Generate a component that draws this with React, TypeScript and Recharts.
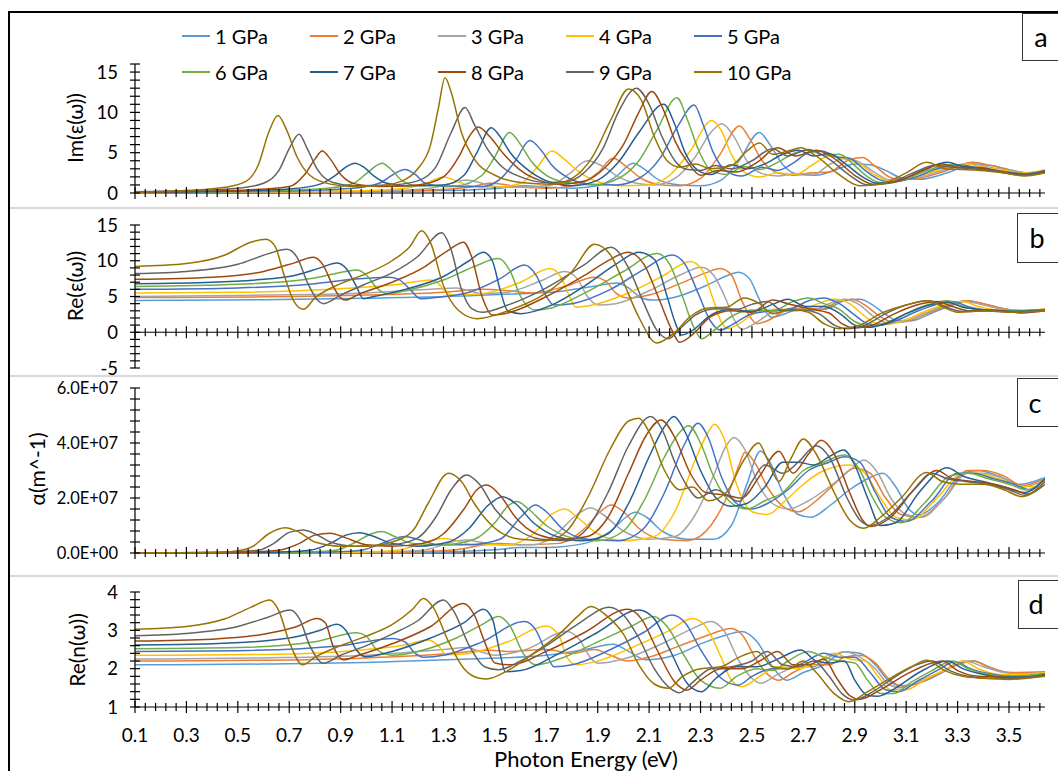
import React from "react";
import { LineChart, Line, XAxis, YAxis, ReferenceLine } from "recharts";

type Pt = [number, number];

const pressures = ["1 GPa", "2 GPa", "3 GPa", "4 GPa", "5 GPa", "6 GPa", "7 GPa", "8 GPa", "9 GPa", "10 GPa"];
const colors = ["#5B9BD5", "#ED7D31", "#A5A5A5", "#FFC000", "#4472C4", "#70AD47", "#255E91", "#9E480E", "#636363", "#997300"];
const xMajorLabels = ["0.1", "0.3", "0.5", "0.7", "0.9", "1.1", "1.3", "1.5", "1.7", "1.9", "2.1", "2.3", "2.5", "2.7", "2.9", "3.1", "3.3", "3.5"];

// ---- (a) Im(eps) ----
const imEps1: Pt[] = [[0.1,0.05],[0.8,0.1],[1.3,0.3],[1.52,0.6],[1.62,0.9],[1.7,0.7],[1.8,0.6],[1.9,0.9],[1.97,2.0],[2.038,3.7],[2.08,3.0],[2.14,1.6],[2.22,1.0],[2.3,0.9],[2.38,1.6],[2.45,4.0],[2.529,7.5],[2.57,6.0],[2.62,3.5],[2.68,2.3],[2.75,2.2],[2.82,2.8],[2.9,3.6],[2.96,3.5],[3.02,2.8],[3.08,1.9],[3.15,1.7],[3.26,2.5],[3.36,3.6],[3.43,3.4],[3.5,2.9],[3.57,2.5],[3.64,2.6]];
const imEps2: Pt[] = [[0.1,0.05],[0.8,0.1],[1.2,0.3],[1.4,0.7],[1.48,1.2],[1.53,1.1],[1.6,0.7],[1.7,0.6],[1.82,1.0],[1.9,2.5],[1.96,4.3],[2.01,3.3],[2.07,1.8],[2.15,1.0],[2.22,0.9],[2.3,1.8],[2.37,4.5],[2.452,8.3],[2.49,6.8],[2.54,4.0],[2.6,2.5],[2.66,2.2],[2.73,2.5],[2.8,2.6],[2.87,4.0],[2.93,4.4],[2.98,3.3],[3.05,1.8],[3.12,1.7],[3.24,2.6],[3.36,3.8],[3.43,3.4],[3.5,2.9],[3.57,2.5],[3.64,2.7]];
const imEps3: Pt[] = [[0.1,0.1],[0.7,0.15],[1.1,0.3],[1.25,0.6],[1.33,1.2],[1.39,1.6],[1.44,1.3],[1.5,0.8],[1.6,0.7],[1.72,1.0],[1.79,2.4],[1.86,4.0],[1.92,3.3],[1.98,2.0],[2.05,1.2],[2.12,1.0],[2.2,1.8],[2.28,4.5],[2.34,7.5],[2.383,8.6],[2.43,7.0],[2.48,4.0],[2.54,2.4],[2.6,2.1],[2.67,2.4],[2.74,2.3],[2.8,3.5],[2.86,4.3],[2.92,3.8],[2.98,2.5],[3.04,1.6],[3.12,1.8],[3.24,2.8],[3.35,3.7],[3.42,3.2],[3.5,2.8],[3.57,2.5],[3.64,2.8]];
const imEps4: Pt[] = [[0.1,0.1],[0.6,0.15],[1.0,0.3],[1.15,0.6],[1.24,1.3],[1.3,2.0],[1.35,1.5],[1.4,0.9],[1.5,0.7],[1.6,1.2],[1.66,3.0],[1.722,5.2],[1.77,4.2],[1.82,2.8],[1.9,1.4],[2.0,0.9],[2.1,1.0],[2.18,2.2],[2.26,5.2],[2.344,9.0],[2.38,7.8],[2.42,4.8],[2.47,2.6],[2.53,2.0],[2.6,2.5],[2.67,2.3],[2.74,3.6],[2.8,4.6],[2.86,4.2],[2.92,3.6],[2.98,2.2],[3.04,1.5],[3.12,1.8],[3.22,2.8],[3.33,3.6],[3.4,3.2],[3.48,2.8],[3.56,2.5],[3.64,2.9]];
const imEps5: Pt[] = [[0.1,0.1],[0.6,0.2],[0.95,0.6],[1.05,1.2],[1.1,2.2],[1.15,2.9],[1.19,2.3],[1.23,1.2],[1.3,0.8],[1.45,0.8],[1.53,2.0],[1.58,4.0],[1.636,6.5],[1.68,5.3],[1.72,3.5],[1.79,1.8],[1.87,1.1],[1.97,1.0],[2.06,1.8],[2.14,4.2],[2.21,8.2],[2.275,10.9],[2.31,8.5],[2.35,5.0],[2.4,2.7],[2.46,2.1],[2.54,3.2],[2.6,2.8],[2.66,3.7],[2.72,5.0],[2.77,5.2],[2.83,4.5],[2.88,4.3],[2.94,2.8],[3.0,1.6],[3.04,1.4],[3.12,1.8],[3.22,3.0],[3.3,3.5],[3.38,3.1],[3.47,2.7],[3.56,2.4],[3.64,2.8]];
const imEps6: Pt[] = [[0.1,0.1],[0.5,0.2],[0.85,0.6],[0.95,1.2],[1.0,2.4],[1.061,3.7],[1.1,2.8],[1.14,1.5],[1.2,0.9],[1.35,0.9],[1.45,2.2],[1.5,4.5],[1.557,7.5],[1.6,6.0],[1.64,4.0],[1.7,2.2],[1.78,1.3],[1.88,1.0],[1.98,1.8],[2.06,4.0],[2.13,7.8],[2.208,11.8],[2.25,9.0],[2.29,5.5],[2.34,2.8],[2.4,2.3],[2.47,3.3],[2.53,2.9],[2.6,3.8],[2.67,5.0],[2.72,5.3],[2.78,4.7],[2.84,4.8],[2.9,3.4],[2.95,2.0],[3.0,1.3],[3.08,1.5],[3.18,2.8],[3.28,3.5],[3.36,3.1],[3.45,2.8],[3.55,2.3],[3.64,2.7]];
const imEps7: Pt[] = [[0.1,0.1],[0.4,0.2],[0.7,0.5],[0.82,1.1],[0.88,2.2],[0.92,3.2],[0.956,3.7],[0.99,3.2],[1.03,2.1],[1.08,1.2],[1.15,0.9],[1.3,1.0],[1.38,2.2],[1.43,5.0],[1.486,8.1],[1.52,7.0],[1.56,5.0],[1.64,2.6],[1.72,1.3],[1.8,0.9],[1.9,1.6],[1.98,3.8],[2.06,7.5],[2.157,11.0],[2.2,8.5],[2.24,5.0],[2.29,2.8],[2.34,2.3],[2.42,3.5],[2.48,3.0],[2.55,3.6],[2.62,4.8],[2.68,5.3],[2.74,4.6],[2.8,4.9],[2.86,3.7],[2.93,2.0],[2.99,1.2],[3.07,1.5],[3.17,2.9],[3.26,3.8],[3.32,3.3],[3.4,3.1],[3.48,2.6],[3.56,2.3],[3.64,2.7]];
const imEps8: Pt[] = [[0.1,0.1],[0.3,0.2],[0.55,0.4],[0.7,0.8],[0.76,2.3],[0.8,4.2],[0.828,5.2],[0.86,4.2],[0.9,2.3],[0.96,1.1],[1.05,0.8],[1.2,1.0],[1.3,2.0],[1.36,4.5],[1.4,7.0],[1.435,8.2],[1.48,7.0],[1.53,5.0],[1.6,2.8],[1.68,1.5],[1.75,1.1],[1.85,1.5],[1.93,3.2],[2.0,6.0],[2.06,10.0],[2.11,12.6],[2.16,10.0],[2.2,6.5],[2.25,3.8],[2.3,2.2],[2.37,2.8],[2.44,2.6],[2.52,3.8],[2.6,5.6],[2.67,4.6],[2.75,5.3],[2.82,4.3],[2.9,2.2],[2.97,1.1],[3.05,1.3],[3.15,2.6],[3.24,3.6],[3.3,3.2],[3.38,3.1],[3.46,2.7],[3.55,2.2],[3.64,2.6]];
const imEps9: Pt[] = [[0.1,0.15],[0.3,0.3],[0.5,0.6],[0.6,1.2],[0.66,2.8],[0.7,5.5],[0.738,7.3],[0.77,5.5],[0.81,2.9],[0.87,1.3],[0.95,0.9],[1.1,1.0],[1.2,1.5],[1.27,3.2],[1.33,7.5],[1.384,10.6],[1.42,8.5],[1.47,5.5],[1.53,3.2],[1.6,2.0],[1.7,1.3],[1.78,1.4],[1.85,2.6],[1.92,5.5],[1.98,10.0],[2.05,13.0],[2.1,11.0],[2.15,7.0],[2.2,4.0],[2.25,2.9],[2.3,2.8],[2.36,3.4],[2.42,3.0],[2.5,4.0],[2.58,5.5],[2.64,4.6],[2.72,5.4],[2.8,4.2],[2.88,2.2],[2.95,1.0],[3.03,1.2],[3.12,2.4],[3.21,3.4],[3.28,3.2],[3.36,3.0],[3.45,2.7],[3.55,2.2],[3.64,2.5]];
const imEps10: Pt[] = [[0.1,0.1],[0.3,0.3],[0.45,0.7],[0.53,1.4],[0.58,3.5],[0.62,7.5],[0.656,9.6],[0.69,7.8],[0.73,4.5],[0.78,2.2],[0.86,1.1],[0.95,0.8],[1.05,0.9],[1.14,1.5],[1.2,3.0],[1.25,6.0],[1.28,10.5],[1.306,14.3],[1.33,12.5],[1.37,7.5],[1.42,4.2],[1.5,2.2],[1.6,1.3],[1.72,1.1],[1.8,1.8],[1.88,4.5],[1.95,9.0],[2.02,12.9],[2.07,11.5],[2.12,7.0],[2.17,4.0],[2.22,3.2],[2.28,3.6],[2.34,3.0],[2.42,3.4],[2.48,5.2],[2.53,6.2],[2.58,4.8],[2.64,5.2],[2.69,5.6],[2.75,4.6],[2.83,2.5],[2.92,0.9],[3.0,1.1],[3.1,2.5],[3.18,3.8],[3.25,3.0],[3.32,2.9],[3.42,2.7],[3.5,2.4],[3.56,2.1],[3.64,2.5]];

// ---- (b) Re(eps) ----
const reEps1: Pt[] = [[0.1,4.45],[0.6,4.55],[1.0,4.75],[1.4,5.1],[1.6,5.4],[1.75,5.7],[1.88,6.4],[1.974,6.9],[2.02,6.2],[2.07,4.8],[2.117,4.5],[2.2,4.9],[2.32,6.5],[2.41,8.0],[2.447,8.4],[2.49,7.5],[2.53,4.5],[2.56,2.6],[2.577,2.1],[2.63,2.6],[2.7,3.4],[2.78,3.2],[2.86,4.4],[2.92,4.6],[2.97,3.8],[3.02,2.5],[3.07,1.6],[3.12,1.6],[3.2,2.7],[3.28,3.8],[3.34,4.4],[3.4,4.0],[3.48,3.3],[3.56,3.0],[3.64,3.1]];
const reEps2: Pt[] = [[0.1,4.85],[0.6,4.95],[1.0,5.2],[1.3,5.6],[1.45,6.0],[1.55,5.8],[1.65,5.5],[1.78,6.5],[1.887,7.7],[1.93,7.2],[1.97,5.5],[2.017,4.8],[2.1,5.2],[2.22,6.8],[2.32,8.3],[2.376,8.9],[2.42,8.0],[2.46,4.5],[2.49,2.3],[2.519,1.2],[2.56,1.6],[2.63,3.0],[2.7,3.4],[2.77,3.2],[2.83,4.2],[2.89,4.6],[2.94,3.8],[2.99,2.4],[3.05,1.4],[3.1,1.5],[3.18,2.6],[3.26,3.7],[3.33,4.4],[3.4,4.0],[3.48,3.3],[3.56,3.0],[3.64,3.2]];
const reEps3: Pt[] = [[0.1,5.0],[0.6,5.2],[1.0,5.5],[1.25,6.0],[1.35,6.2],[1.4,5.8],[1.45,5.4],[1.55,5.6],[1.68,7.2],[1.773,8.5],[1.82,7.5],[1.86,5.0],[1.902,3.8],[1.97,4.0],[2.1,5.8],[2.22,8.0],[2.304,9.1],[2.35,8.0],[2.4,4.5],[2.43,1.8],[2.462,0.4],[2.51,1.2],[2.58,2.8],[2.66,3.3],[2.74,3.1],[2.8,4.0],[2.86,4.6],[2.92,3.8],[2.97,2.3],[3.03,1.3],[3.08,1.4],[3.16,2.5],[3.24,3.6],[3.32,4.3],[3.38,4.0],[3.46,3.3],[3.55,3.0],[3.64,3.2]];
const reEps4: Pt[] = [[0.1,5.5],[0.5,5.6],[0.9,6.1],[1.1,6.6],[1.2,7.1],[1.248,7.3],[1.28,6.8],[1.31,5.6],[1.34,5.2],[1.45,5.4],[1.6,7.0],[1.715,8.9],[1.76,7.5],[1.79,5.0],[1.816,3.5],[1.88,3.8],[2.0,5.2],[2.15,7.8],[2.261,9.9],[2.31,8.5],[2.35,4.5],[2.38,1.5],[2.404,0.5],[2.45,1.2],[2.52,2.8],[2.6,3.2],[2.68,3.0],[2.75,3.9],[2.82,4.6],[2.88,4.0],[2.93,2.5],[2.98,1.3],[3.03,1.1],[3.1,1.8],[3.18,3.0],[3.26,4.0],[3.32,4.3],[3.38,3.6],[3.46,3.1],[3.55,3.0],[3.64,3.2]];
const reEps5: Pt[] = [[0.1,6.0],[0.5,6.2],[0.8,6.8],[0.95,7.4],[1.079,7.7],[1.12,7.5],[1.17,6.0],[1.21,4.7],[1.28,4.9],[1.4,5.6],[1.52,7.5],[1.615,9.4],[1.66,8.0],[1.7,5.0],[1.73,3.8],[1.8,4.0],[1.95,6.0],[2.08,8.8],[2.189,10.8],[2.24,9.5],[2.29,5.5],[2.34,1.5],[2.376,0.3],[2.42,1.0],[2.5,2.6],[2.58,3.0],[2.66,3.4],[2.72,4.4],[2.78,4.8],[2.84,4.0],[2.9,2.4],[2.95,1.2],[3.0,1.0],[3.06,1.6],[3.14,2.9],[3.22,3.9],[3.28,4.3],[3.34,3.6],[3.42,3.1],[3.52,3.0],[3.64,3.1]];
const reEps6: Pt[] = [[0.1,6.4],[0.5,6.7],[0.8,7.6],[0.92,8.5],[0.962,8.7],[1.0,8.0],[1.04,6.2],[1.08,5.4],[1.15,5.8],[1.3,7.3],[1.42,9.2],[1.514,10.3],[1.56,8.5],[1.6,5.0],[1.658,3.1],[1.72,3.4],[1.85,5.5],[2.0,8.5],[2.132,11.0],[2.18,9.5],[2.23,5.0],[2.27,1.0],[2.304,-0.9],[2.35,0.2],[2.42,2.2],[2.5,3.1],[2.58,3.0],[2.66,4.3],[2.72,4.8],[2.78,4.0],[2.84,3.2],[2.9,1.5],[2.95,0.9],[3.02,1.3],[3.1,2.6],[3.18,3.8],[3.26,4.4],[3.32,3.6],[3.4,3.1],[3.5,3.0],[3.64,3.1]];
const reEps7: Pt[] = [[0.1,6.8],[0.4,7.0],[0.7,7.8],[0.82,9.0],[0.885,9.7],[0.92,9.0],[0.96,6.5],[0.988,4.7],[1.03,5.0],[1.15,6.0],[1.3,7.8],[1.4,10.0],[1.455,11.2],[1.49,10.0],[1.52,6.0],[1.55,3.0],[1.6,2.6],[1.72,3.8],[1.85,6.5],[1.97,9.5],[2.06,11.2],[2.12,10.2],[2.17,5.0],[2.2,1.5],[2.225,-0.4],[2.27,0.3],[2.34,2.4],[2.42,3.2],[2.5,2.9],[2.58,3.9],[2.64,4.6],[2.71,3.6],[2.78,3.6],[2.85,2.4],[2.9,1.0],[2.95,0.7],[3.02,1.2],[3.1,2.6],[3.18,3.7],[3.26,4.2],[3.32,3.5],[3.42,3.1],[3.52,2.9],[3.64,3.1]];
const reEps8: Pt[] = [[0.1,7.4],[0.4,7.7],[0.6,8.5],[0.72,9.7],[0.794,10.5],[0.83,9.5],[0.87,6.5],[0.9,4.8],[0.917,4.5],[0.97,5.3],[1.1,7.0],[1.22,9.0],[1.32,11.5],[1.378,12.6],[1.41,10.5],[1.45,5.0],[1.49,2.4],[1.55,2.7],[1.7,5.0],[1.85,8.0],[1.95,10.2],[2.017,11.2],[2.08,9.5],[2.14,4.5],[2.19,0.2],[2.218,-1.4],[2.27,-0.3],[2.34,2.2],[2.42,3.0],[2.5,2.8],[2.58,4.5],[2.64,4.0],[2.72,3.3],[2.8,2.7],[2.85,1.2],[2.9,0.6],[2.97,1.0],[3.05,2.5],[3.14,3.8],[3.22,4.3],[3.28,3.6],[3.35,3.0],[3.45,3.0],[3.55,2.7],[3.64,3.0]];
const reEps9: Pt[] = [[0.1,8.2],[0.3,8.5],[0.5,9.5],[0.62,11.0],[0.69,11.6],[0.73,10.5],[0.77,7.0],[0.81,4.5],[0.833,4.0],[0.9,5.2],[1.0,6.8],[1.1,8.3],[1.2,10.6],[1.293,13.9],[1.33,11.5],[1.37,6.0],[1.41,3.3],[1.45,2.8],[1.55,3.8],[1.7,6.2],[1.85,9.5],[1.952,11.9],[2.02,9.0],[2.08,4.0],[2.13,0.3],[2.175,-0.9],[2.22,0.5],[2.28,2.4],[2.36,3.3],[2.44,3.2],[2.5,3.9],[2.56,4.3],[2.62,3.0],[2.7,3.1],[2.76,2.6],[2.82,1.0],[2.87,0.5],[2.94,1.0],[3.02,2.6],[3.1,3.8],[3.19,4.4],[3.25,3.6],[3.32,2.9],[3.42,3.0],[3.52,2.8],[3.64,3.0]];
const reEps10: Pt[] = [[0.1,9.2],[0.3,9.6],[0.45,10.8],[0.55,12.6],[0.61,13.0],[0.645,12.0],[0.68,8.0],[0.72,4.2],[0.755,3.2],[0.8,4.8],[0.9,6.8],[1.0,8.2],[1.1,10.0],[1.17,12.0],[1.215,14.2],[1.25,12.5],[1.3,6.5],[1.36,3.0],[1.43,1.9],[1.55,3.0],[1.7,5.5],[1.8,8.5],[1.887,12.3],[1.95,10.8],[2.0,7.0],[2.06,2.1],[2.13,-1.5],[2.2,0.0],[2.26,2.2],[2.33,3.4],[2.4,3.5],[2.47,4.8],[2.53,4.0],[2.58,2.6],[2.65,3.2],[2.72,2.8],[2.78,1.2],[2.84,0.5],[2.92,1.0],[3.0,2.6],[3.1,3.8],[3.18,4.4],[3.24,3.6],[3.3,2.8],[3.4,3.0],[3.5,2.8],[3.64,3.0]];

// ---- (c) alpha, in units of 1E+07 m^-1 ----
const alpha1: Pt[] = [[0.1,0.0],[1.2,0.03],[1.5,0.12],[1.6,0.2],[1.7,0.2],[1.85,0.35],[1.95,0.8],[2.01,1.3],[2.045,1.48],[2.09,1.3],[2.15,0.8],[2.25,0.5],[2.35,0.5],[2.42,1.0],[2.48,2.5],[2.533,3.71],[2.57,3.3],[2.62,2.2],[2.68,1.4],[2.73,1.3],[2.8,1.7],[2.88,2.3],[2.95,2.7],[3.01,2.9],[3.06,2.4],[3.11,1.6],[3.15,1.38],[3.22,1.8],[3.32,2.9],[3.38,3.0],[3.46,2.8],[3.54,2.5],[3.64,2.75]];
const alpha2: Pt[] = [[0.1,0.0],[1.1,0.03],[1.35,0.12],[1.46,0.3],[1.52,0.35],[1.6,0.3],[1.75,0.35],[1.85,0.9],[1.91,1.5],[1.952,1.75],[2.0,1.5],[2.06,0.9],[2.15,0.5],[2.25,0.45],[2.34,1.0],[2.41,2.2],[2.45,3.2],[2.473,3.66],[2.51,3.3],[2.56,2.4],[2.62,1.7],[2.68,1.5],[2.75,1.9],[2.82,2.5],[2.9,3.08],[2.96,2.9],[3.02,2.0],[3.08,1.4],[3.15,1.3],[3.24,1.9],[3.34,3.0],[3.4,3.0],[3.48,2.8],[3.55,2.45],[3.64,2.7]];
const alpha3: Pt[] = [[0.1,0.0],[1.0,0.03],[1.22,0.1],[1.3,0.3],[1.36,0.45],[1.39,0.47],[1.44,0.4],[1.52,0.3],[1.65,0.3],[1.74,0.7],[1.82,1.4],[1.873,1.65],[1.92,1.4],[2.0,0.8],[2.1,0.5],[2.2,0.6],[2.28,1.4],[2.35,2.8],[2.4,3.9],[2.43,4.2],[2.47,3.8],[2.52,2.6],[2.58,1.8],[2.64,1.6],[2.72,1.9],[2.8,2.4],[2.88,3.0],[2.935,3.38],[2.99,2.9],[3.04,2.0],[3.1,1.4],[3.16,1.3],[3.25,2.0],[3.34,2.9],[3.4,2.9],[3.48,2.7],[3.55,2.4],[3.64,2.65]];
const alpha4: Pt[] = [[0.1,0.0],[0.9,0.02],[1.12,0.1],[1.2,0.3],[1.26,0.48],[1.3,0.53],[1.35,0.45],[1.42,0.3],[1.55,0.3],[1.65,0.7],[1.72,1.4],[1.773,1.6],[1.82,1.3],[1.9,0.7],[2.0,0.45],[2.12,0.6],[2.2,1.5],[2.28,3.4],[2.33,4.4],[2.354,4.68],[2.39,4.2],[2.44,2.5],[2.5,1.5],[2.56,1.4],[2.63,1.9],[2.7,2.5],[2.78,3.0],[2.88,3.2],[2.94,2.9],[3.0,2.0],[3.06,1.3],[3.12,1.2],[3.22,2.0],[3.32,2.9],[3.38,2.9],[3.46,2.7],[3.54,2.45],[3.6,2.4],[3.64,2.75]];
const alpha5: Pt[] = [[0.1,0.0],[0.8,0.02],[0.98,0.1],[1.06,0.35],[1.12,0.55],[1.15,0.6],[1.2,0.5],[1.28,0.3],[1.4,0.3],[1.52,0.5],[1.6,1.3],[1.658,1.75],[1.7,1.5],[1.76,0.9],[1.86,0.5],[1.98,0.45],[2.08,0.9],[2.16,2.2],[2.24,4.0],[2.29,4.72],[2.33,4.2],[2.38,2.8],[2.44,1.8],[2.5,1.6],[2.56,1.8],[2.64,2.3],[2.72,3.0],[2.8,3.3],[2.86,3.5],[2.92,3.3],[2.98,2.2],[3.04,1.3],[3.1,1.15],[3.2,1.9],[3.3,2.9],[3.36,2.9],[3.44,2.7],[3.52,2.5],[3.58,2.3],[3.64,2.7]];
const alpha6: Pt[] = [[0.1,0.0],[0.7,0.02],[0.88,0.1],[0.96,0.4],[1.02,0.7],[1.06,0.78],[1.11,0.6],[1.18,0.35],[1.3,0.3],[1.42,0.5],[1.5,1.1],[1.55,1.7],[1.586,1.87],[1.63,1.6],[1.7,1.0],[1.8,0.55],[1.9,0.45],[2.0,0.8],[2.08,1.9],[2.16,3.5],[2.22,4.4],[2.254,4.63],[2.3,4.0],[2.35,2.8],[2.41,1.9],[2.48,1.6],[2.55,1.9],[2.62,2.2],[2.7,3.0],[2.78,3.3],[2.86,3.56],[2.92,3.0],[2.97,2.0],[3.02,1.3],[3.08,1.1],[3.17,1.8],[3.27,2.8],[3.34,2.9],[3.42,2.7],[3.5,2.5],[3.57,2.3],[3.64,2.7]];
const alpha7: Pt[] = [[0.1,0.0],[0.6,0.02],[0.78,0.1],[0.86,0.35],[0.92,0.65],[0.975,0.74],[1.03,0.6],[1.1,0.35],[1.2,0.25],[1.32,0.4],[1.4,0.9],[1.47,1.7],[1.53,2.05],[1.58,1.8],[1.65,1.1],[1.74,0.6],[1.84,0.45],[1.94,0.7],[2.02,1.8],[2.1,3.5],[2.16,4.6],[2.196,4.96],[2.24,4.4],[2.3,3.0],[2.36,2.0],[2.42,1.7],[2.48,1.8],[2.55,2.4],[2.62,3.3],[2.68,3.3],[2.74,3.2],[2.8,3.5],[2.857,3.75],[2.9,3.2],[2.95,2.0],[3.0,1.0],[3.06,1.1],[3.15,2.2],[3.26,3.1],[3.32,2.8],[3.4,2.6],[3.48,2.4],[3.56,2.2],[3.64,2.7]];
const alpha8: Pt[] = [[0.1,0.0],[0.5,0.02],[0.66,0.1],[0.74,0.35],[0.8,0.65],[0.859,0.72],[0.92,0.55],[1.0,0.3],[1.1,0.25],[1.22,0.35],[1.3,0.7],[1.38,1.6],[1.43,2.3],[1.468,2.47],[1.52,2.1],[1.58,1.3],[1.66,0.7],[1.76,0.5],[1.86,0.6],[1.94,1.3],[2.02,2.9],[2.09,4.3],[2.146,4.84],[2.2,4.2],[2.26,2.9],[2.32,2.2],[2.4,2.1],[2.46,2.0],[2.53,2.8],[2.605,3.7],[2.66,2.9],[2.72,3.6],[2.77,4.1],[2.82,3.6],[2.88,2.2],[2.93,1.2],[2.96,0.96],[3.04,1.3],[3.13,2.3],[3.22,3.0],[3.28,2.7],[3.36,2.6],[3.44,2.5],[3.52,2.3],[3.57,2.15],[3.64,2.6]];
const alpha9: Pt[] = [[0.1,0.0],[0.45,0.03],[0.58,0.1],[0.64,0.35],[0.7,0.75],[0.755,0.84],[0.8,0.7],[0.86,0.4],[0.95,0.25],[1.1,0.3],[1.2,0.55],[1.27,1.3],[1.33,2.3],[1.39,2.84],[1.44,2.5],[1.5,1.6],[1.58,0.9],[1.68,0.5],[1.78,0.45],[1.86,0.9],[1.94,2.2],[2.02,3.9],[2.106,4.96],[2.15,4.5],[2.2,3.3],[2.25,2.4],[2.29,2.0],[2.36,2.3],[2.45,1.87],[2.5,2.6],[2.55,3.2],[2.62,2.9],[2.68,3.3],[2.75,3.9],[2.8,3.5],[2.87,2.0],[2.92,1.2],[2.96,1.0],[3.03,1.3],[3.12,2.2],[3.2,2.9],[3.26,2.7],[3.33,2.6],[3.42,2.5],[3.5,2.3],[3.56,2.1],[3.64,2.5]];
const alpha10: Pt[] = [[0.1,0.0],[0.4,0.02],[0.5,0.08],[0.56,0.25],[0.62,0.7],[0.684,0.92],[0.74,0.75],[0.8,0.4],[0.9,0.25],[1.0,0.25],[1.1,0.4],[1.18,0.8],[1.24,1.8],[1.32,2.9],[1.37,2.6],[1.42,1.8],[1.5,0.9],[1.6,0.5],[1.7,0.45],[1.78,0.8],[1.86,2.0],[1.95,3.8],[2.02,4.8],[2.06,4.9],[2.1,4.4],[2.16,3.0],[2.22,2.3],[2.27,2.4],[2.33,1.9],[2.4,2.2],[2.47,3.4],[2.526,4.0],[2.56,3.4],[2.605,2.6],[2.65,3.4],[2.7,4.15],[2.75,3.6],[2.82,2.2],[2.88,1.2],[2.935,0.9],[3.0,1.3],[3.08,2.0],[3.18,2.93],[3.24,2.6],[3.31,2.5],[3.4,2.5],[3.48,2.3],[3.55,2.05],[3.64,2.6]];

// ---- (d) Re(n) ----
const reN1: Pt[] = [[0.1,2.1],[0.6,2.12],[1.0,2.16],[1.4,2.25],[1.7,2.35],[1.85,2.5],[1.96,2.64],[2.02,2.45],[2.09,2.23],[2.2,2.35],[2.32,2.7],[2.41,2.9],[2.462,2.97],[2.52,2.7],[2.58,2.05],[2.634,1.7],[2.7,1.9],[2.78,2.1],[2.86,2.44],[2.92,2.4],[2.98,2.1],[3.03,1.7],[3.08,1.55],[3.16,1.65],[3.24,1.9],[3.3,2.15],[3.36,2.2],[3.42,2.05],[3.5,1.9],[3.64,1.88]];
const reN2: Pt[] = [[0.1,2.2],[0.6,2.22],[1.0,2.28],[1.3,2.38],[1.48,2.48],[1.55,2.45],[1.7,2.5],[1.8,2.4],[1.887,2.5],[1.95,2.35],[2.017,2.2],[2.1,2.3],[2.22,2.6],[2.34,2.9],[2.418,3.05],[2.46,2.9],[2.52,2.2],[2.57,1.8],[2.605,1.7],[2.66,1.9],[2.74,2.1],[2.8,2.1],[2.86,2.3],[2.92,2.35],[2.98,2.15],[3.03,1.75],[3.08,1.55],[3.14,1.6],[3.22,1.85],[3.3,2.1],[3.36,2.2],[3.42,2.05],[3.5,1.9],[3.64,1.92]];
const reN3: Pt[] = [[0.1,2.25],[0.6,2.28],[1.0,2.35],[1.3,2.5],[1.39,2.55],[1.44,2.45],[1.5,2.35],[1.62,2.5],[1.78,2.97],[1.83,2.75],[1.87,2.3],[1.902,2.14],[2.0,2.25],[2.15,2.65],[2.27,3.05],[2.34,3.23],[2.39,3.0],[2.45,2.2],[2.5,1.75],[2.533,1.62],[2.6,1.85],[2.68,2.05],[2.74,2.05],[2.8,2.3],[2.86,2.44],[2.92,2.3],[2.98,2.0],[3.03,1.6],[3.08,1.5],[3.16,1.7],[3.25,1.95],[3.33,2.2],[3.4,2.05],[3.48,1.9],[3.56,1.85],[3.64,1.9]];
const reN4: Pt[] = [[0.1,2.35],[0.6,2.37],[1.0,2.5],[1.15,2.62],[1.24,2.75],[1.28,2.6],[1.31,2.36],[1.38,2.38],[1.55,2.7],[1.7,3.11],[1.75,2.85],[1.78,2.3],[1.816,2.1],[1.9,2.2],[2.05,2.6],[2.18,3.0],[2.268,3.31],[2.32,3.1],[2.38,2.3],[2.42,1.7],[2.462,1.53],[2.53,1.8],[2.6,2.05],[2.68,2.0],[2.76,2.2],[2.82,2.4],[2.88,2.25],[2.94,2.2],[2.99,1.8],[3.04,1.45],[3.1,1.45],[3.18,1.75],[3.26,2.0],[3.32,2.2],[3.38,2.0],[3.46,1.85],[3.55,1.85],[3.64,1.9]];
const reN5: Pt[] = [[0.1,2.45],[0.5,2.47],[0.9,2.6],[1.105,2.79],[1.15,2.7],[1.19,2.4],[1.222,2.3],[1.3,2.35],[1.45,2.7],[1.615,3.23],[1.66,3.0],[1.7,2.4],[1.73,2.05],[1.8,2.1],[1.95,2.5],[2.08,2.95],[2.189,3.4],[2.24,3.2],[2.3,2.5],[2.38,1.75],[2.447,1.57],[2.5,1.8],[2.58,2.0],[2.64,2.0],[2.7,2.15],[2.78,2.4],[2.84,2.3],[2.9,2.3],[2.96,1.9],[3.02,1.45],[3.07,1.4],[3.15,1.7],[3.22,1.95],[3.29,2.18],[3.35,2.0],[3.44,1.85],[3.52,1.8],[3.64,1.87]];
const reN6: Pt[] = [[0.1,2.52],[0.5,2.55],[0.8,2.7],[0.962,2.94],[1.0,2.85],[1.04,2.5],[1.1,2.35],[1.2,2.45],[1.35,2.8],[1.45,3.15],[1.514,3.36],[1.56,3.1],[1.61,2.4],[1.658,2.1],[1.75,2.25],[1.9,2.7],[2.03,3.1],[2.117,3.36],[2.17,3.1],[2.24,2.3],[2.3,1.7],[2.376,1.49],[2.44,1.8],[2.52,2.0],[2.58,1.95],[2.64,2.2],[2.72,2.45],[2.78,2.3],[2.84,2.2],[2.9,2.15],[2.95,1.7],[3.0,1.35],[3.05,1.35],[3.12,1.65],[3.2,1.95],[3.28,2.2],[3.34,2.0],[3.42,1.85],[3.5,1.8],[3.64,1.86]];
const reN7: Pt[] = [[0.1,2.62],[0.4,2.65],[0.7,2.8],[0.82,3.0],[0.885,3.16],[0.92,3.0],[0.96,2.5],[0.995,2.31],[1.1,2.45],[1.25,2.8],[1.38,3.2],[1.455,3.55],[1.49,3.3],[1.52,2.4],[1.54,1.92],[1.6,1.95],[1.75,2.4],[1.9,2.95],[2.06,3.53],[2.12,3.3],[2.18,2.5],[2.25,1.6],[2.304,1.4],[2.36,1.75],[2.44,2.05],[2.52,2.05],[2.6,2.25],[2.69,2.49],[2.75,2.2],[2.8,2.15],[2.86,2.2],[2.9,1.7],[2.95,1.3],[2.99,1.28],[3.06,1.5],[3.15,1.9],[3.26,2.2],[3.32,2.0],[3.4,1.85],[3.48,1.78],[3.56,1.78],[3.64,1.85]];
const reN8: Pt[] = [[0.1,2.72],[0.4,2.77],[0.6,2.9],[0.73,3.1],[0.807,3.31],[0.84,3.2],[0.87,2.6],[0.91,2.23],[0.97,2.35],[1.1,2.65],[1.25,3.1],[1.378,3.7],[1.42,3.4],[1.46,2.7],[1.5,2.15],[1.56,2.1],[1.7,2.45],[1.85,2.95],[2.017,3.55],[2.07,3.3],[2.13,2.5],[2.2,1.65],[2.246,1.44],[2.3,1.7],[2.38,2.0],[2.46,2.0],[2.53,2.2],[2.6,2.45],[2.66,2.1],[2.72,2.1],[2.78,2.25],[2.83,1.75],[2.88,1.3],[2.92,1.2],[3.0,1.45],[3.1,1.85],[3.2,2.15],[3.24,2.2],[3.3,1.95],[3.38,1.8],[3.46,1.78],[3.55,1.75],[3.64,1.83]];
const reN9: Pt[] = [[0.1,2.86],[0.3,2.92],[0.5,3.1],[0.62,3.35],[0.703,3.53],[0.74,3.3],[0.78,2.6],[0.833,2.14],[0.9,2.35],[1.0,2.6],[1.1,2.9],[1.2,3.25],[1.3,3.79],[1.34,3.5],[1.4,2.6],[1.46,2.05],[1.514,1.97],[1.6,2.2],[1.7,2.6],[1.82,3.15],[1.945,3.6],[2.0,3.4],[2.06,2.8],[2.12,2.0],[2.18,1.5],[2.218,1.37],[2.27,1.65],[2.34,2.0],[2.42,2.05],[2.5,2.2],[2.56,2.45],[2.62,2.1],[2.68,2.05],[2.74,2.2],[2.8,1.8],[2.85,1.35],[2.9,1.18],[2.97,1.4],[3.06,1.8],[3.14,2.1],[3.2,2.2],[3.27,1.95],[3.34,1.8],[3.42,1.75],[3.52,1.75],[3.64,1.82]];
const reN10: Pt[] = [[0.1,3.03],[0.3,3.1],[0.45,3.3],[0.55,3.6],[0.625,3.79],[0.66,3.5],[0.7,2.7],[0.752,2.1],[0.8,2.3],[0.9,2.6],[1.0,2.85],[1.1,3.15],[1.18,3.55],[1.222,3.83],[1.26,3.6],[1.32,2.7],[1.38,2.0],[1.44,1.75],[1.468,1.73],[1.55,1.95],[1.65,2.4],[1.75,2.9],[1.82,3.35],[1.873,3.62],[1.94,3.35],[2.0,2.9],[2.06,2.1],[2.12,1.6],[2.175,1.49],[2.23,1.8],[2.3,2.0],[2.38,2.05],[2.45,2.3],[2.52,2.45],[2.58,2.05],[2.64,2.0],[2.7,2.2],[2.75,1.9],[2.82,1.35],[2.878,1.14],[2.95,1.4],[3.05,1.8],[3.12,2.05],[3.18,2.22],[3.25,1.95],[3.32,1.8],[3.4,1.75],[3.5,1.72],[3.64,1.8]];

const imEpsSeries = [imEps1, imEps2, imEps3, imEps4, imEps5, imEps6, imEps7, imEps8, imEps9, imEps10];
const reEpsSeries = [reEps1, reEps2, reEps3, reEps4, reEps5, reEps6, reEps7, reEps8, reEps9, reEps10];
const alphaSeries = [alpha1, alpha2, alpha3, alpha4, alpha5, alpha6, alpha7, alpha8, alpha9, alpha10];
const reNSeries = [reN1, reN2, reN3, reN4, reN5, reN6, reN7, reN8, reN9, reN10];

const FONT = "Lato, 'Open Sans', 'DejaVu Sans', sans-serif";
const X_DOMAIN: [number, number] = [0.1, 3.64];

function steps(from: number, to: number, step: number) {
  const n = Math.round((to - from) / step);
  const out: number[] = [];
  for (let i = 0; i <= n; i++) out.push(Math.round((from + i * step) * 1000) / 1000);
  return out;
}

const xTicks = steps(0.1, 3.62, 0.04);
const isXMajor = (v: number) => Math.abs(v * 10 - Math.round(v * 10)) < 1e-6 && xMajorLabels.includes(v.toFixed(1));

function XTick(props: any) {
  const { x, y, payload, shift, labels } = props;
  const v = payload.value as number;
  const major = isXMajor(v);
  const len = major ? 6 : 4;
  const yy = y - shift;
  return (
    <g>
      <line x1={x} x2={x} y1={yy - len} y2={yy + len} stroke="#000" strokeWidth={1.2} />
      {labels && major && (
        <text x={x} y={yy + 35} textAnchor="middle" fontSize={19} fontFamily={FONT} fill="#000">
          {v.toFixed(1)}
        </text>
      )}
    </g>
  );
}

function YTick(props: any) {
  const { x, y, payload, base, step, fmt, fs } = props;
  const v = payload.value as number;
  const q = (v - base) / step;
  const major = Math.abs(q - Math.round(q)) < 1e-6;
  return (
    <g>
      <line x1={x - 5} x2={x + 5} y1={y} y2={y} stroke="#000" strokeWidth={1.2} />
      {major && (
        <text x={x - 17} y={y} dy={fs * 0.36} textAnchor="end" fontSize={fs} fontFamily={FONT} fill="#000">
          {fmt(v)}
        </text>
      )}
    </g>
  );
}

type PanelCfg = {
  series: Pt[][];
  top: number;
  height: number;
  mt: number;
  xh: number;
  domain: [number, number];
  ticks: number[];
  base: number;
  step: number;
  fmt: (v: number) => string;
  fs: number;
  cross: number;
  labels: boolean;
};

const panels: PanelCfg[] = [
  { series: imEpsSeries, top: 44, height: 163, mt: 20, xh: 14, domain: [0, 16], ticks: steps(0, 16, 1), base: 0, step: 5, fmt: (v) => String(v), fs: 18.5, cross: 0, labels: false },
  { series: reEpsSeries, top: 209, height: 175, mt: 16, xh: 16, domain: [-5, 15], ticks: steps(-5, 15, 1), base: -5, step: 5, fmt: (v) => String(v), fs: 18.5, cross: 0, labels: false },
  { series: alphaSeries, top: 377, height: 190, mt: 11, xh: 14, domain: [0, 6], ticks: steps(0, 6, 0.4), base: 0, step: 2, fmt: (v) => (v === 0 ? "0.0E+00" : v.toFixed(1) + "E+07"), fs: 16.5, cross: 0, labels: false },
  { series: reNSeries, top: 577, height: 180, mt: 15, xh: 50, domain: [1, 4], ticks: steps(1, 4, 0.2), base: 1, step: 1, fmt: (v) => String(v), fs: 18.5, cross: 1, labels: true },
];

function Panel({ p }: { p: PanelCfg }) {
  const plotH = p.height - p.mt - p.xh;
  const shift = (plotH * (p.cross - p.domain[0])) / (p.domain[1] - p.domain[0]);
  return (
    <div style={{ position: "absolute", left: 0, top: p.top }}>
      <LineChart width={1058} height={p.height} margin={{ top: p.mt, right: 13, bottom: 0, left: 0 }}>
        <XAxis
          dataKey="x"
          type="number"
          domain={X_DOMAIN}
          allowDataOverflow
          ticks={xTicks}
          interval={0}
          height={p.xh}
          axisLine={false}
          tickLine={false}
          tickSize={0}
          tickMargin={0}
          tick={<XTick shift={shift} labels={p.labels} />}
        />
        <YAxis
          type="number"
          domain={p.domain}
          ticks={p.ticks}
          interval={0}
          width={135}
          axisLine={{ stroke: "#000", strokeWidth: 1.2 }}
          tickLine={false}
          tickSize={0}
          tickMargin={0}
          tick={<YTick base={p.base} step={p.step} fmt={p.fmt} fs={p.fs} />}
        />
        <ReferenceLine y={p.cross} stroke="#000" strokeWidth={1.2} />
        {p.series.map((s, i) => (
          <Line
            key={pressures[i]}
            name={pressures[i]}
            data={s.map(([x, y]) => ({ x, y }))}
            dataKey="y"
            type="monotone"
            stroke={colors[i]}
            strokeWidth={1.5}
            dot={false}
            activeDot={false}
            isAnimationActive={false}
          />
        ))}
      </LineChart>
    </div>
  );
}

const yTitles = [
  { text: "Im(ε(ω))", x: 74, y: 128 },
  { text: "Re(ε(ω))", x: 74, y: 286 },
  { text: "α(m^-1)", x: 36, y: 469 },
  { text: "Re(n(ω))", x: 76, y: 650 },
];

const letterBoxes = [
  { text: "a", left: 1022, top: 13, h: 48, cx: 1040, cy: 37 },
  { text: "b", left: 1017, top: 213, h: 50, cx: 1036, cy: 238 },
  { text: "c", left: 1017, top: 378, h: 49, cx: 1034, cy: 403 },
  { text: "d", left: 1018, top: 580, h: 49, cx: 1035, cy: 604 },
];

const legendCols = [182, 310, 438, 566, 694];
const legendRows = [36, 72];

export default function App() {
  return (
    <div style={{ position: "absolute", left: 0, top: 0, width: 1058, height: 771, overflow: "hidden", background: "#fff", fontFamily: FONT, color: "#000" }}>
      {/* outer frame and panel separators */}
      <div style={{ position: "absolute", left: 8, top: 11, width: 1050, height: 2, background: "#000" }} />
      <div style={{ position: "absolute", left: 8, top: 11, width: 2, height: 760, background: "#000" }} />
      {[207, 375, 575].map((y) => (
        <div key={y} style={{ position: "absolute", left: 10, top: y, width: 1048, height: 2, background: "#D9D9D9" }} />
      ))}

      {panels.map((p, i) => (
        <Panel key={i} p={p} />
      ))}

      {yTitles.map((t) => (
        <div
          key={t.text}
          style={{ position: "absolute", left: t.x, top: t.y, transform: "translate(-50%, -50%) rotate(-90deg)", fontSize: 21, whiteSpace: "nowrap" }}
        >
          {t.text}
        </div>
      ))}

      <div style={{ position: "absolute", left: 586, top: 758, transform: "translate(-50%, -50%)", fontSize: 22, whiteSpace: "nowrap" }}>
        Photon Energy (eV)
      </div>

      {pressures.map((name, i) => {
        const col = i % 5;
        const row = Math.floor(i / 5);
        return (
          <div
            key={name}
            style={{ position: "absolute", left: legendCols[col], top: legendRows[row], transform: "translateY(-50%)", display: "flex", alignItems: "center", whiteSpace: "nowrap" }}
          >
            <span style={{ display: "inline-block", width: 28, height: 2, background: colors[i], marginRight: 5 }} />
            <span style={{ fontSize: 20 }}>{name}</span>
          </div>
        );
      })}

      {letterBoxes.map((b) => (
        <div key={b.text} style={{ position: "absolute", left: b.left, top: b.top, width: 60, height: b.h, border: "1.5px solid #333", background: "#fff", boxSizing: "border-box" }}>
          <span style={{ position: "absolute", left: b.cx - b.left, top: b.cy - b.top, transform: "translate(-50%, -55%)", fontSize: 27 }}>{b.text}</span>
        </div>
      ))}
    </div>
  );
}
